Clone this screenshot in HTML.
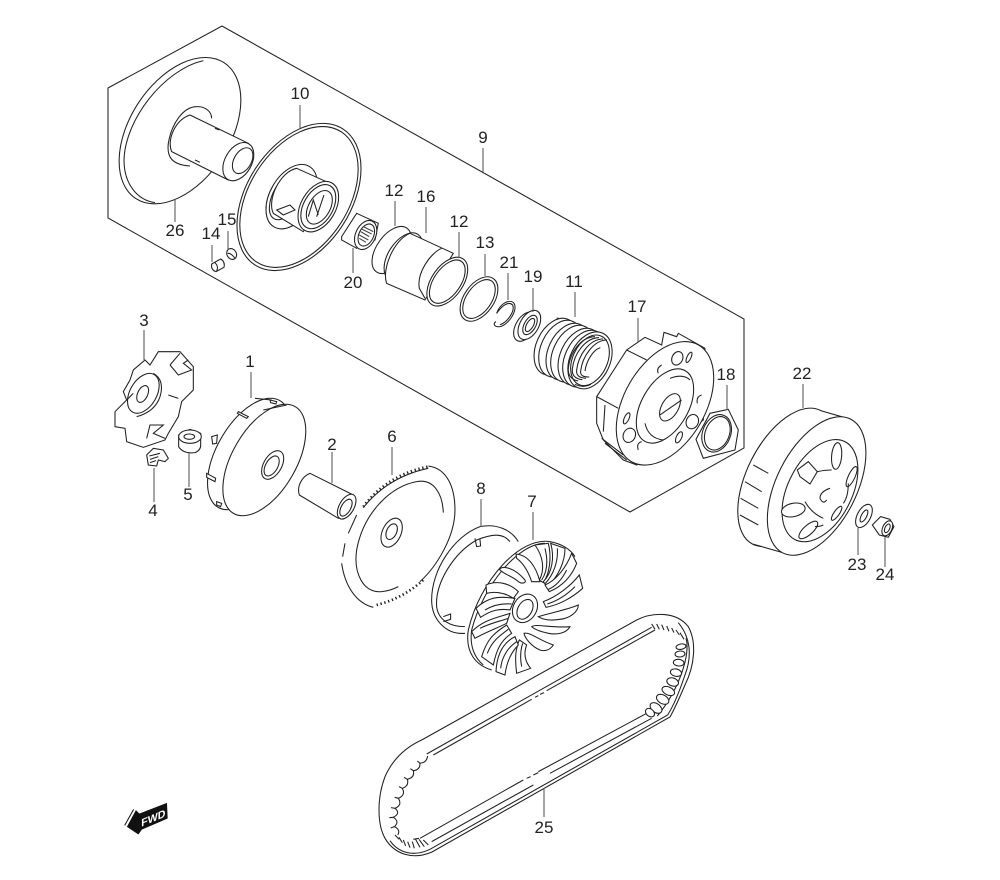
<!DOCTYPE html>
<html><head><meta charset="utf-8"><style>
html,body{margin:0;padding:0;background:#fff}
svg{display:block}
text{font-family:"Liberation Sans",sans-serif;font-size:17px;fill:#222;stroke:none;text-anchor:middle}
.n{fill:none}
</style></head><body>
<svg width="1000" height="880" viewBox="0 0 1000 880" xmlns="http://www.w3.org/2000/svg">
<g fill="#fff" stroke="#222" stroke-width="1.05">
<!-- box -->
<path class="n" d="M108,88 L222,26 L744,319 L744,448 L630,512 L108,218 Z"/>

<!-- Z1 -->
<g transform="translate(100,40) scale(.3333)" stroke-width="3.2">
<ellipse cx="240" cy="272" rx="150" ry="243" transform="rotate(33 240 272)"/>
<path class="n" d="M310,62 C190,90 75,240 72,360 C72,430 110,480 165,488"/>
<path class="n" d="M290,200 C250,200 215,250 205,310 C200,350 215,375 270,378"/>
<path class="n" d="M290,200 C315,198 335,215 335,235"/>
<path d="M270,225 L445,310 L385,420 L215,335 C200,300 225,240 270,225 Z"/>
<ellipse cx="415" cy="365" rx="40" ry="62" transform="rotate(30 415 365)"/>
<ellipse cx="428" cy="362" rx="26" ry="42" transform="rotate(30 428 362)"/>
<path class="n" d="M345,265 L358,270 M285,360 L300,367"/>

<ellipse cx="597" cy="471" rx="156" ry="243" transform="rotate(33 597 471)"/>
<ellipse cx="597" cy="471" rx="148" ry="233" transform="rotate(33 597 471)"/>
<ellipse cx="575" cy="470" rx="65" ry="105" transform="rotate(30 575 470)"/>
<ellipse cx="563" cy="465" rx="42" ry="82" transform="rotate(30 563 465)"/>
<path d="M590,385 L690,430 L610,575 L520,520 C500,480 540,395 590,385 Z"/>
<path d="M530,510 L570,495 L585,510 L550,525 Z"/>
<ellipse cx="655" cy="500" rx="52" ry="82" transform="rotate(30 655 500)"/>
<ellipse cx="655" cy="500" rx="44" ry="72" transform="rotate(30 655 500)"/>
<ellipse cx="658" cy="502" rx="32" ry="55" transform="rotate(30 658 502)"/>
<path class="n" d="M625,530 L640,480 L655,525 M650,530 L672,465"/>

<path d="M770,520 L835,550 L825,600 L770,625 L725,600 L725,590 Z"/>
<ellipse cx="797" cy="585" rx="30" ry="46" transform="rotate(25 797 585)"/>
<ellipse cx="799" cy="585" rx="22" ry="35" transform="rotate(25 799 585)"/>
<path class="n" d="M782,575 L808,590 M785,567 L815,582 M790,560 L820,575 M778,585 L805,600 M778,595 L798,607" stroke="#444"/>

<ellipse cx="875" cy="630" rx="45" ry="80" transform="rotate(35 875 630)"/>
<ellipse cx="910" cy="650" rx="45" ry="80" transform="rotate(33 910 650)"/>
<path d="M930,580 L1060,640 L975,780 L860,730 C845,690 880,600 930,580 Z" />
<ellipse cx="1042" cy="725" rx="47" ry="83" transform="rotate(35 1042 725)"/>
<ellipse cx="1042" cy="725" rx="40" ry="74" transform="rotate(35 1042 725)"/>
<path class="n" d="M1025,625 C990,640 950,700 958,745 L975,775"/>
<path d="M335,672 L362,657 Q376,665 372,682 L348,695 Q332,690 335,672 Z"/>
<path class="n" d="M345,668 Q357,680 350,693"/>
<ellipse cx="395" cy="642" rx="14" ry="17" transform="rotate(-30 395 642)"/>
<path class="n" d="M383,640 Q395,640 405,655"/>
</g>
<ellipse cx="479" cy="299" rx="15" ry="25" transform="rotate(35 479 299)"/>
<ellipse cx="479" cy="299" rx="12.5" ry="22" transform="rotate(35 479 299)"/>

<!-- Z2 -->
<g transform="translate(490,280) scale(.3333)" stroke-width="3.2">
<path class="n" d="M20,100 C30,70 60,55 72,70 C85,90 55,135 30,140 C12,142 8,130 18,125"/>
<path class="n" d="M20,100 C35,78 55,62 68,75 C76,95 50,128 30,134"/>
<ellipse cx="105" cy="140" rx="28" ry="48" transform="rotate(30 105 140)"/>
<ellipse cx="118" cy="135" rx="28" ry="48" transform="rotate(30 118 135)"/>
<ellipse cx="120" cy="135" rx="17" ry="32" transform="rotate(30 120 135)"/>
<ellipse cx="120" cy="135" rx="10" ry="22" transform="rotate(30 120 135)"/>

<path d="M320,350 L410,210 L465,172 L515,195 L522,157 L560,170 L565,160 L645,205 L640,420 L440,555 L400,540 L340,480 L320,430 Z"/>
<path class="n" d="M410,210 L470,240 M320,350 L385,385 M335,475 L400,525 M345,490 L410,540 M345,375 L340,455"/>
<ellipse cx="525" cy="370" rx="122" ry="202" transform="rotate(30 525 370)"/>
<ellipse cx="525" cy="378" rx="70" ry="122" transform="rotate(30 525 378)"/>
<path class="n" d="M540,295 Q580,280 600,300 M465,430 Q475,475 520,480"/>
<ellipse cx="540" cy="382" rx="25" ry="45" transform="rotate(30 540 382)"/>
<path class="n" d="M510,405 L575,360"/>
<ellipse cx="562" cy="235" rx="16" ry="21" transform="rotate(25 562 235)"/>
<ellipse cx="418" cy="466" rx="18" ry="22" transform="rotate(25 418 466)"/>
<ellipse cx="607" cy="425" rx="18" ry="22" transform="rotate(25 607 425)"/>
<ellipse cx="597" cy="232" rx="6" ry="17" transform="rotate(25 597 232)"/>
<ellipse cx="410" cy="415" rx="7" ry="18" transform="rotate(25 410 415)"/>
<ellipse cx="567" cy="472" rx="8" ry="18" transform="rotate(25 567 472)"/>
<path class="n" d="M515,255 Q498,265 505,280 M635,345 Q618,350 622,370 M455,485 Q438,490 445,510"/>
<path d="M660,400 L715,388 L745,450 L735,510 L640,535 L618,478 Z"/>
<ellipse cx="680" cy="460" rx="42" ry="58" transform="rotate(22 680 460)"/>
<ellipse cx="682" cy="460" rx="36" ry="52" transform="rotate(22 682 460)"/>

<ellipse cx="890" cy="592" rx="118" ry="225" transform="rotate(27 890 592)"/>
<path d="M992,392 L1082,418 L878,818 L788,792 Z" stroke="none"/>
<path class="n" d="M992,392 L1082,418 M788,792 L878,818"/>
<path class="n" d="M790,555 L835,580 M765,605 L815,635 M752,655 L805,685 M750,705 L805,735"/>
<ellipse cx="980" cy="618" rx="120" ry="225" transform="rotate(27 980 618)"/>
<ellipse cx="990" cy="632" rx="96" ry="165" transform="rotate(27 990 632)"/>
<ellipse cx="1040" cy="528" rx="15" ry="40" transform="rotate(5 1040 528)"/>
<ellipse cx="1085" cy="590" rx="10" ry="33" transform="rotate(25 1085 590)"/>
<path d="M955,545 L982,575 L960,612 L930,590 L922,570 Z"/>
<ellipse cx="910" cy="690" rx="36" ry="20" transform="rotate(-12 910 690)"/>
<ellipse cx="955" cy="750" rx="14" ry="36" transform="rotate(48 955 750)"/>
<ellipse cx="1040" cy="700" rx="8" ry="25" transform="rotate(35 1040 700)"/>
<path class="n" d="M1020,625 Q990,635 990,655 Q1000,675 1010,660 M982,575 Q1005,570 1025,570 M945,665 Q965,700 1000,715 M1075,610 Q1075,650 1060,670 M975,740 Q990,740 1000,735"/>
<ellipse cx="1122" cy="708" rx="20" ry="38" transform="rotate(28 1122 708)"/>
<ellipse cx="1122" cy="708" rx="8" ry="20" transform="rotate(28 1122 708)"/>
<path d="M1147,735 L1172,710 L1200,718 L1212,740 L1195,772 L1168,765 Z"/>
<ellipse cx="1192" cy="745" rx="14" ry="24" transform="rotate(25 1192 745)"/>
<ellipse cx="1192" cy="745" rx="7" ry="14" transform="rotate(25 1192 745)"/>
</g>

<!-- spring -->
<g transform="translate(525,305) scale(.3333)" stroke-width="3.2">
<path class="n" d="M45,90 L100,38"/>
<ellipse cx="92" cy="125" rx="58" ry="90" transform="rotate(25 92 125)"/>
<ellipse cx="106" cy="131" rx="58" ry="90" transform="rotate(25 106 131)"/>
<ellipse cx="128" cy="140" rx="58" ry="90" transform="rotate(25 128 140)"/>
<ellipse cx="142" cy="146" rx="58" ry="90" transform="rotate(25 142 146)"/>
<ellipse cx="164" cy="155" rx="58" ry="90" transform="rotate(25 164 155)"/>
<ellipse cx="178" cy="161" rx="58" ry="90" transform="rotate(25 178 161)"/>
<ellipse cx="195" cy="166" rx="60" ry="90" transform="rotate(25 195 166)"/>
<ellipse cx="195" cy="166" rx="52" ry="80" transform="rotate(25 195 166)"/>
<path class="n" d="M210,95 C170,95 135,140 130,190 C128,210 140,225 160,228 M222,98 C182,98 147,145 142,192 C140,212 152,222 172,224 M234,102 C194,102 160,150 155,195 C153,212 163,218 183,220 M246,105 C206,105 172,155 167,198 C165,212 175,216 193,216 M226,128 C204,135 184,168 180,198"/>
<path class="n" d="M150,238 Q175,250 198,238"/>
</g>

<!-- Z3 -->
<g transform="translate(100,330) scale(.3333)" stroke-width="3.2">
<path d="M135,90 L150,105 L175,65 L240,65 L280,110 L280,180 L245,215 L235,260 L205,310 L195,330 L130,352 L80,335 L75,295 L45,290 L45,245 L80,210 L70,185 L90,150 L100,120 Z"/>
<ellipse cx="130" cy="190" rx="40" ry="65" transform="rotate(30 130 190)"/>
<ellipse cx="128" cy="192" rx="15" ry="27" transform="rotate(25 128 192)"/>
<path class="n" d="M160,130 Q195,150 180,200 Q165,245 110,260 M205,195 L235,205 M210,105 L240,70 M210,105 L235,135 L275,120 L250,100 L265,90 M140,325 L150,285 L190,285 L160,310 L195,325 M80,210 L100,190"/>
<path d="M140,375 L160,355 L190,360 L205,385 L195,395 L175,390 L170,408 L145,405 Z"/>
<path class="n" d="M148,378 L180,370 M150,388 L175,380 M150,398 L168,392"/>
<path d="M236,315 L236,350 Q250,372 285,368 Q303,360 302,345 L302,310 L270,298 Z"/>
<ellipse cx="270" cy="320" rx="34" ry="20"/>
<ellipse cx="268" cy="320" rx="16" ry="8"/>

<ellipse cx="447" cy="372" rx="96" ry="185" transform="rotate(30 447 372)"/>
<path d="M415,245 L445,260 L440,265 L412,250 Z M320,430 L347,445 L345,455 L320,442 Z M335,320 L352,315 L350,340 L338,342 Z M350,515 L365,520 L362,530 L350,525 Z M510,210 L530,215 L528,222 L512,218 Z"/>
<path class="n" d="M465,205 L515,210"/>
<ellipse cx="493" cy="390" rx="96" ry="185" transform="rotate(30 493 390)"/>
<path class="n" d="M490,240 L560,225"/>
<ellipse cx="518" cy="405" rx="27" ry="47" transform="rotate(30 518 405)"/>
<ellipse cx="515" cy="408" rx="18" ry="33" transform="rotate(30 515 408)"/>

<path d="M630,430 L760,495 L715,565 L598,495 C590,470 605,440 630,430 Z"/>
<ellipse cx="740" cy="530" rx="22" ry="41" transform="rotate(30 740 530)"/>
<ellipse cx="738" cy="533" rx="14" ry="28" transform="rotate(30 738 533)"/>

<path class="n" d="M985,408 C1040,415 1065,470 1065,540 C1065,620 1010,710 960,755"/>
<path class="n" d="M820,832 C770,820 735,770 725,700 M728,680 L735,640 M745,610 L770,555"/>
<path class="n" d="M1030,548 C1028,490 1000,445 950,455 C870,470 790,550 770,660 C760,730 790,790 845,785 C865,783 880,778 895,770"/>
<path class="n" d="M790,530 C820,490 880,430 985,410" stroke-width="8" stroke-dasharray="4 8"/>
<path class="n" d="M790,533 C820,495 880,437 985,415"/>
<path class="n" d="M830,825 C870,815 920,795 970,750" stroke-width="8" stroke-dasharray="4 8"/>
<ellipse cx="875" cy="608" rx="28" ry="46" transform="rotate(25 875 608)"/>
<ellipse cx="875" cy="605" rx="15" ry="25" transform="rotate(25 875 605)"/>

<path class="n" d="M1255,635 C1235,600 1190,580 1140,590 C1060,620 995,720 995,810 C995,870 1040,915 1095,910"/>
<path class="n" d="M1230,635 C1210,610 1180,610 1130,630 C1060,670 1005,760 1010,830 C1015,870 1050,890 1095,890"/>
<path class="n" d="M1125,625 L1130,650 L1142,648 L1140,628 M1030,860 L1052,852 L1052,868 L1030,875"/>
</g>

<!-- fan -->
<g transform="translate(460,530) scale(.3333)" stroke-width="3.2">
<ellipse cx="190" cy="230" rx="140" ry="215" transform="rotate(30 190 230)" stroke="none"/>
<path class="n" d="M345,80 C330,55 300,40 270,35 C180,20 60,150 25,300 C15,365 45,405 95,420"/>
<path class="n" d="M255,40 C175,40 70,165 35,300 C28,350 45,385 70,405"/>
<path d="M118,118 C130,105 165,115 195,150 C200,160 185,162 175,155 C160,140 135,135 118,118 Z"/>
<path d="M168,72 C200,75 225,100 240,155 L215,155 C205,125 190,100 170,85 Z"/>
<path d="M238,150 C255,120 250,80 225,45 L265,40 C275,80 270,130 250,158 Z"/>
<path d="M250,155 C275,130 285,85 272,40 L315,55 C315,95 295,140 262,170 Z"/>
<path d="M255,165 C290,150 320,110 335,70 L350,100 C335,140 305,170 268,185 Z"/>
<path d="M250,215 C290,200 330,170 358,135 L368,175 C335,205 295,225 258,232 Z"/>
<path d="M235,260 C265,250 320,240 355,225 C355,245 330,265 300,268 C275,272 250,270 235,260 Z"/>
<path d="M215,290 C230,280 270,295 330,290 C320,310 290,315 265,310 C245,305 225,300 215,290 Z"/>
<path d="M240,360 C215,350 195,325 192,310 C210,305 235,330 280,345 C270,360 255,365 240,360 Z"/>
<path d="M170,430 C165,390 165,360 178,330 L200,345 C190,370 195,395 212,415 Z"/>
<path d="M108,425 C110,380 125,340 165,320 L175,345 C155,365 140,395 135,435 Z"/>
<path d="M65,380 C80,330 100,310 140,285 L155,310 C125,330 110,355 100,405 Z"/>
<path d="M35,305 C70,270 105,265 150,250 L140,280 C110,295 80,305 45,325 Z"/>
<path d="M48,235 C90,195 130,200 165,205 L150,240 C120,235 95,240 62,262 Z"/>
<path d="M78,165 C110,150 150,160 175,185 L160,205 C130,185 100,185 80,190 Z"/>
<path class="n" d="M82,370 C95,335 115,320 145,298 M122,415 C125,385 140,355 170,335 M185,410 C180,385 180,365 188,340 M255,55 C265,95 262,125 245,150 M292,55 C295,95 280,135 256,160 M60,295 C90,280 115,275 145,265 M75,240 C100,225 130,220 155,222 M320,120 C305,150 285,170 265,178 M345,170 C320,195 295,212 262,222"/>
<ellipse cx="195" cy="235" rx="35" ry="45" transform="rotate(30 195 235)"/>
<ellipse cx="195" cy="238" rx="21" ry="32" transform="rotate(30 195 238)"/>
</g>

<!-- belt -->
<g transform="translate(370,600) scale(.3333)" stroke-width="3.2" fill="none">
<path d="M155,420 L800,60 C850,35 920,35 955,80 C980,125 975,195 945,255 C930,290 915,325 900,351 L186,756 C130,780 75,765 45,715 C20,670 22,590 45,530 C65,485 100,445 155,420 Z"/>
<path d="M925,68 C960,110 968,165 945,225 C930,270 912,315 893,345 L180,748 C130,772 85,758 60,722"/>
<path d="M170,462 L845,82 M190,465 L485,298 M530,272 L855,90 M495,292 L505,287 M510,283 L522,278"/>
<path d="M150,715 L460,540 M505,515 L830,340 M185,725 L490,555 M540,520 L845,355 M470,535 L482,530 M490,525 L505,518"/>
</g>
<!-- left teeth -->
<g transform="translate(375,730) scale(.3333)" stroke-width="3.2" fill="none">
<path d="M158,78 Q155,98 135,100 Q135,120 115,122 Q120,142 97,148 Q103,168 82,175 Q93,195 70,205 Q83,225 60,235 Q78,250 55,262 Q75,275 58,290 Q78,300 68,315"/>
<path d="M135,100 L127,93 M115,122 L106,116 M97,148 L87,142 M82,175 L72,170 M70,205 L59,202 M60,235 L48,233 M55,262 L43,263 M58,290 L47,294"/>
<path d="M60,315 L72,328 M72,322 L82,338 M85,330 L92,348 M98,335 L105,353 M112,335 L118,355 M122,328 L135,352 M132,328 L148,350 M145,330 L160,345 M115,328 L132,325"/>
</g>
<!-- right teeth -->
<g transform="translate(600,610) scale(.3333)" stroke-width="3.2">
<path class="n" d="M258,85 C272,130 240,235 172,318"/>
<path class="n" d="M155,42 L165,58 M170,42 L178,58 M185,44 L192,60 M200,48 L207,64 M215,54 L222,68 M228,60 L238,75 M240,68 L252,88"/>
<ellipse cx="243" cy="110" rx="15" ry="8" transform="rotate(-10 243 110)"/>
<ellipse cx="240" cy="132" rx="15" ry="9" transform="rotate(-5 240 132)"/>
<ellipse cx="236" cy="158" rx="16" ry="10" transform="rotate(5 236 158)"/>
<ellipse cx="228" cy="188" rx="17" ry="11" transform="rotate(12 228 188)"/>
<ellipse cx="218" cy="216" rx="18" ry="12" transform="rotate(18 218 216)"/>
<ellipse cx="205" cy="243" rx="20" ry="12" transform="rotate(25 205 243)"/>
<ellipse cx="188" cy="268" rx="20" ry="13" transform="rotate(30 188 268)"/>
<ellipse cx="168" cy="294" rx="20" ry="13" transform="rotate(38 168 294)"/>
<ellipse cx="150" cy="308" rx="15" ry="11" transform="rotate(40 150 308)"/>
</g>

<!-- FWD -->
<g transform="translate(110,790) scale(.3333)">
<path d="M52,110 L78,62 L88,72 L170,40 L172,85 L95,118 L85,132 Z" fill="#111" stroke="#111" stroke-width="2"/>
<path class="n" d="M44,106 L71,58" stroke="#111" stroke-width="3"/>
<text transform="matrix(1,-.42,0,1,130,95)" style="font-size:32px;fill:#fff;font-weight:bold">FWD</text>
</g>

<!-- leaders -->
<path class="n" stroke="#555" d="M300,105V128 M483,148V172 M175,200V222 M395,201V226 M426,207V233 M459,232V258 M485,254V276 M508,273V300 M533,288V312 M575,292V317 M638,318V342 M727,385V410 M803,384V408 M353,248V273 M212,245V262 M228,231V250 M144,330V360 M251,372V398 M332,452V483 M392,447V475 M481,499V527 M533,512V540 M154,468V502 M189,453V487 M858,528V555 M885,537V567 M544,788V817"/>
</g>

<text x="300" y="99">10</text>
<text x="483" y="143">9</text>
<text x="394" y="196">12</text>
<text x="426" y="202">16</text>
<text x="459" y="227">12</text>
<text x="485" y="248">13</text>
<text x="509" y="268">21</text>
<text x="533" y="282">19</text>
<text x="574" y="287">11</text>
<text x="637" y="312">17</text>
<text x="726" y="380">18</text>
<text x="802" y="379">22</text>
<text x="175" y="236">26</text>
<text x="227" y="225">15</text>
<text x="211" y="239">14</text>
<text x="353" y="288">20</text>
<text x="144" y="326">3</text>
<text x="250" y="367">1</text>
<text x="332" y="450">2</text>
<text x="392" y="442">6</text>
<text x="481" y="494">8</text>
<text x="532" y="507">7</text>
<text x="153" y="516">4</text>
<text x="188" y="500">5</text>
<text x="857" y="570">23</text>
<text x="885" y="580">24</text>
<text x="544" y="833">25</text>
</svg>
</body></html>
